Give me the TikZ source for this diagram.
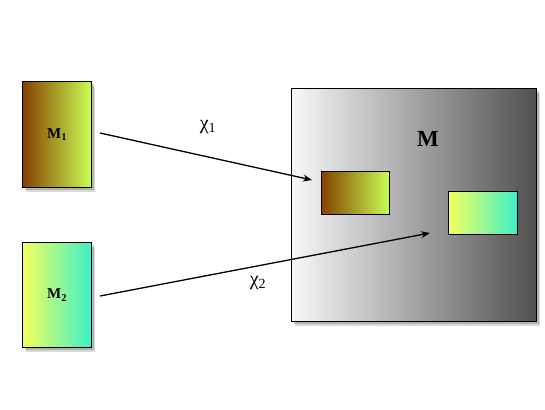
\documentclass[tikz,border=0pt]{standalone}
\usepackage{fontspec}
\setmainfont{Liberation Serif}
\usetikzlibrary{arrows.meta}
\tikzset{
  shad/.style={preaction={fill=black, fill opacity=0.18, draw=none, transform canvas={shift={(2pt,-2.5pt)}}},
               preaction={fill=black, fill opacity=0.15, draw=none, transform canvas={shift={(3.5pt,-4pt)}}}},
  box/.style={draw=black, line width=1.2pt, inner sep=0pt, anchor=north west},
  brownbox/.style={box, left color={rgb,255:red,135;green,65;blue,0}, right color={rgb,255:red,200;green,255;blue,85}},
  cyanbox/.style={box, left color={rgb,255:red,245;green,255;blue,95}, right color={rgb,255:red,60;green,240;blue,200}},
  graybox/.style={box, left color={rgb,255:red,248;green,248;blue,248}, right color={rgb,255:red,80;green,80;blue,80}},
  conn/.style={-{Stealth[length=9pt,width=7pt]}, line width=1.3pt},
  lab/.style={font=\fontsize{15}{17}\selectfont\bfseries},
  chilab/.style={font=\fontsize{20}{22}\selectfont}
}
\begin{document}
\begin{tikzpicture}[x=1pt,y=-1pt]
\useasboundingbox (0,0) rectangle (545,409);
\node[shad, brownbox, minimum width=69pt, minimum height=106pt] (m1) at (22,81) {};
\node[lab] (m1t) at (m1.center) {M\textsubscript{1}};
\node[shad, cyanbox, minimum width=69pt, minimum height=105pt] (m2) at (22,242) {};
\node[lab] (m2t) at (m2.center) {M\textsubscript{2}};
\node[shad, graybox, minimum width=245pt, minimum height=233pt] (m) at (291,88) {};
\node[font=\fontsize{23}{25}\selectfont\bfseries] (mt) at (428,139) {M};
\node[brownbox, minimum width=68pt, minimum height=43pt] (b1) at (321,171) {};
\node[cyanbox, minimum width=69pt, minimum height=43pt] (b2) at (448,191) {};
\coordinate (s1) at (100,133);
\coordinate (e1) at (312,180);
\coordinate (s2) at (100,296);
\coordinate (e2) at (430,233);
\draw[conn] (s1) -- (e1);
\draw[conn] (s2) -- (e2);
\node[chilab] (c1) at (208,127) {χ\textsubscript{1}};
\node[chilab] (c2) at (258,283) {χ\textsubscript{2}};
\end{tikzpicture}
\end{document}
